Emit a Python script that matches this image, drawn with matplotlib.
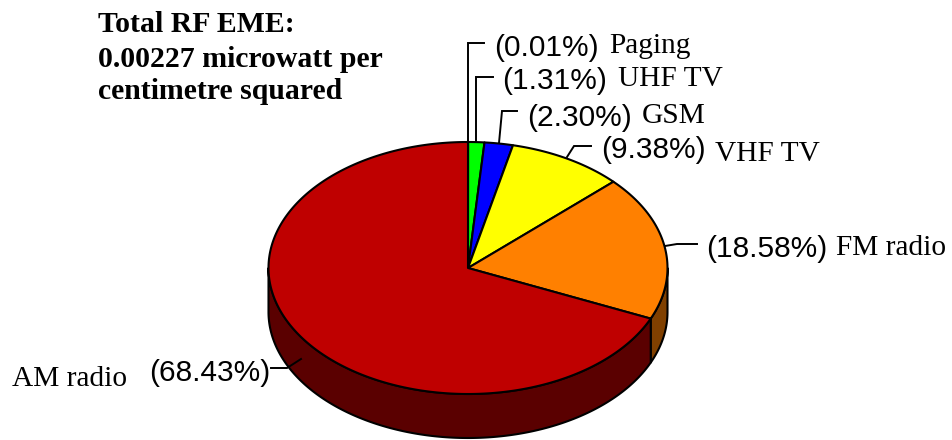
#importing the relevant modules
import numpy as np
import matplotlib
matplotlib.use('Agg')
import matplotlib.pyplot as plt
from matplotlib.patches import Polygon

#chart values, clockwise from the top of the pie
names = ['Paging', 'UHF TV', 'GSM', 'VHF TV', 'FM radio', 'AM radio']
shares = [0.01, 1.31, 2.30, 9.38, 18.58, 68.43]
share_labels = ['(0.01%)', '(1.31%)', '(2.30%)', '(9.38%)', '(18.58%)', '(68.43%)']
title_lines = ['Total RF EME:', '0.00227 microwatt per', 'centimetre squared']

#colours of the slices and of the side wall
top_colours = ['#00ff00', '#00ff00', '#0000ff', '#ffff00', '#ff8000', '#bf0000']
side_colours = ['#008000', '#008000', '#000080', '#808000', '#804000', '#5a0000']

#pie geometry in pixels
cx, cy = 468, 268
rx, ry = 199.5, 126
depth = 44
lw = 1.5

fig = plt.figure(figsize=(9.52, 4.4), dpi=100)
ax = fig.add_axes([0, 0, 1, 1])
ax.set_xlim(0, 952)
ax.set_ylim(440, 0)
ax.axis('off')


def rim(a, b, dy=0):
  #points on the ellipse, angle in degrees clockwise from the top
  t = np.radians(np.linspace(a, b, max(int(abs(b - a) * 2), 2)))
  return np.column_stack([cx + rx * np.sin(t), cy + dy - ry * np.cos(t)])


#slice limits in degrees
edges = np.cumsum([0] + shares)
edges = edges / edges[-1] * 360

#side wall, only the front half can be seen
for i in range(len(shares)):
  a = max(edges[i], 90)
  b = min(edges[i + 1], 270)
  if a < b:
    pts = np.vstack([rim(a, b), rim(a, b, depth)[::-1]])
    ax.add_patch(Polygon(pts, closed=True, fc=side_colours[i], ec='black', lw=lw, joinstyle='round'))

#top face
for i in range(len(shares)):
  pts = np.vstack([[cx, cy], rim(edges[i], edges[i + 1])])
  ax.add_patch(Polygon(pts, closed=True, fc=top_colours[i], ec='black', lw=lw, joinstyle='round'))

#leader lines, one for each label
leaders = [
  [(468, 141), (468, 43), (484, 43)],
  [(476, 141), (476, 77), (493, 77)],
  [(499, 143), (502, 111), (517, 111)],
  [(567, 157), (574, 146), (591, 146)],
  [(665, 246), (677, 244), (697, 244)],
  [(301, 359), (287, 368), (271, 368)],
]
for line in leaders:
  xs, ys = zip(*line)
  ax.plot(xs, ys, color='black', lw=1.4, solid_joinstyle='miter')

#share text and slice names
share_pos = [(494, 56), (502, 89), (527, 126), (601, 158), (706, 257), (149, 381)]
name_pos = [(609, 53), (618, 86), (642, 123), (715, 161), (836, 255), (12, 386)]
for i in range(len(names)):
  ax.text(share_pos[i][0], share_pos[i][1], share_labels[i], family='Liberation Sans',
          fontsize=21.5, va='baseline', ha='left', color='black')
  ax.text(name_pos[i][0], name_pos[i][1], names[i], family='Liberation Serif',
          fontsize=21.2, va='baseline', ha='left', color='black')

#title block
title_y = [32, 67, 99]
for i in range(len(title_lines)):
  ax.text(98, title_y[i], title_lines[i], family='Liberation Serif', fontweight='bold',
          fontsize=21.4, va='baseline', ha='left', color='black')

fig.savefig('out.png', dpi=100)
